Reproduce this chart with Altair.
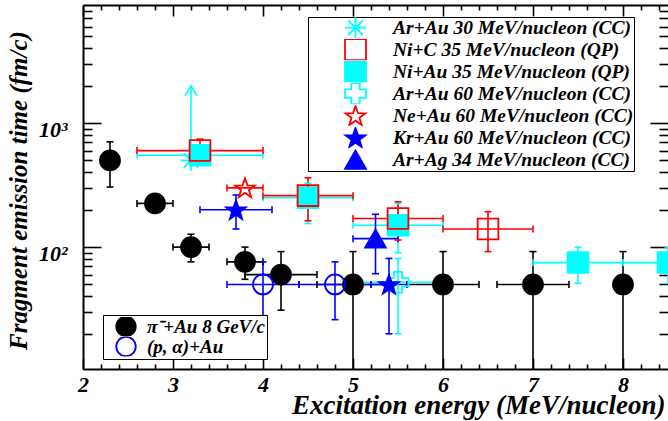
import math
import altair as alt
import pandas as pd

# ---------------- data ----------------
# pi- + Au 8 GeV/c (black filled circles)
pi_E = [2.3, 2.8, 3.2, 3.8, 4.2, 5.0, 6.0, 7.0, 8.0]
pi_T = [500, 225, 100, 76, 60, 50, 50, 50, 50]
pi_Elo = [None, 2.6, 3.0, 3.6, 3.8, 4.6, 5.6, 6.6, None]
pi_Ehi = [None, 3.0, 3.4, 4.0, 4.6, 5.4, 6.4, 7.4, None]
pi_Tlo = [305, None, 76, 55, 31, 5, 5, 5, 5]
pi_Thi = [706, None, 127, 100, 92, 92, 92, 92, 92]

# (p, alpha) + Au (blue open circles)
pa_E = [4.0, 4.8]
pa_T = [50, 50]
pa_Elo = [3.6, 4.4]
pa_Ehi = [4.4, 5.2]
pa_Tlo = [28, 26]
pa_Thi = [76, 76]

# Ar+Au 30 MeV/nucleon (CC) - lower limit
ar30_E = [3.2]
ar30_T = [500]
ar30_limit = [2000]

# Ni+C 35 MeV/nucleon (QP)
nic_E = [3.3, 4.5, 5.5, 6.5]
nic_T = [600, 260, 170, 140]
nic_Elo = [2.6, 4.0, 5.0, 6.0]
nic_Ehi = [4.0, 5.0, 6.0, 7.0]
nic_Tlo = [467, 163, 114, 92]
nic_Thi = [743, 362, 232, 193]

# Ni+Au 35 MeV/nucleon (QP)
niau_E = [3.3, 4.5, 5.5, 7.5, 8.5]
niau_T = [550, 250, 150, 75, 75]
niau_Elo = [2.6, 4.0, 5.0, 7.0, 8.0]
niau_Ehi = [4.0, 5.0, 6.0, 8.0, 9.0]
niau_Tlo = [490, 155, 90, 51, 51]
niau_Thi = [620, 327, 225, 100, 100]

# Ar+Au 60 MeV/nucleon (CC)
ar60_E = [5.5]
ar60_T = [52]
ar60_Elo = [5.0]
ar60_Ehi = [6.0]
ar60_Tlo = [20]
ar60_Thi = [81]

# Ne+Au 60 MeV/nucleon (CC)
ne_E = [3.8]
ne_T = [300]
ne_Elo = [3.6]
ne_Ehi = [4.0]

# Kr+Au 60 MeV/nucleon (CC)
kr_E = [3.7, 5.4]
kr_T = [200, 50]
kr_Elo = [3.3, 5.2]
kr_Ehi = [4.1, 5.6]
kr_Tlo = [140, 20]
kr_Thi = [263, 81]

# Ar+Ag 34 MeV/nucleon (CC)
ag_E = [5.25]
ag_T = [117]
ag_Elo = [5.0]
ag_Ehi = [5.5]
ag_Tlo = [61]
ag_Thi = [184]

names_A = ["Ar+Au 30 MeV/nucleon (CC)", "Ni+C 35 MeV/nucleon (QP)",
           "Ni+Au 35 MeV/nucleon (QP)", "Ar+Au 60 MeV/nucleon (CC)",
           "Ne+Au 60 MeV/nucleon (CC)", "Kr+Au 60 MeV/nucleon (CC)",
           "Ar+Ag 34 MeV/nucleon (CC)"]
names_B = ["π⁻+Au 8 GeV/c", "(p, α)+Au"]

x_major = [2, 3, 4, 5, 6, 7, 8]
x_ticks = [round(2 + 0.2 * i, 1) for i in range(33)]
y_major = [100, 1000]
y_ticks = [m * d for d in (10, 100, 1000) for m in range(2, 10) if m * d < 8900] + [100, 1000]

# ---------------- styles ----------------
CYAN, RED, BLUE, BLACK = "#00ffff", "#ff0000", "#0000ff", "#000000"
pts = []
for k in range(10):
    a = math.radians(-90 + 36 * k)
    r = 1.0 if k % 2 == 0 else 0.4
    pts.append(f"{r * math.cos(a):.3f},{r * math.sin(a) + 0.08:.3f}")
STAR = "M" + "L".join(pts) + "Z"
ASTER = "M0,-1L0,1M-1,0L1,0M-0.7,-0.7L0.7,0.7M-0.7,0.7L0.7,-0.7"
CHEVRON = "M-0.6,1L0,0L0.6,1"

shapes_A = [ASTER, "square", "square", "cross", STAR, STAR, "triangle-up"]
stroke_A = [CYAN, RED, CYAN, CYAN, RED, BLUE, BLUE]
fill_A = ["transparent", "transparent", CYAN, "transparent", "transparent", BLUE, BLUE]
stroke_B = [BLACK, BLUE]
fill_B = [BLACK, "transparent"]
color_of = dict(zip(names_A, stroke_A)) | dict(zip(names_B, stroke_B))

# ---------------- tables ----------------
rows = []


def add(name, E, T, Elo=None, Ehi=None, Tlo=None, Thi=None):
    n = len(E)
    Elo = Elo or [None] * n
    Ehi = Ehi or [None] * n
    Tlo = Tlo or [None] * n
    Thi = Thi or [None] * n
    for i in range(n):
        rows.append(dict(series=name, E=E[i], T=T[i], Elo=Elo[i], Ehi=Ehi[i],
                         Tlo=Tlo[i], Thi=Thi[i], color=color_of[name],
                         group="A" if name in names_A else "B"))


# drawing order: later rows are drawn on top
add(names_B[0], pi_E, pi_T, pi_Elo, pi_Ehi, pi_Tlo, pi_Thi)
add(names_B[1], pa_E, pa_T, pa_Elo, pa_Ehi, pa_Tlo, pa_Thi)
add(names_A[0], ar30_E, ar30_T)
add(names_A[2], niau_E, niau_T, niau_Elo, niau_Ehi, niau_Tlo, niau_Thi)
add(names_A[1], nic_E, nic_T, nic_Elo, nic_Ehi, nic_Tlo, nic_Thi)
add(names_A[3], ar60_E, ar60_T, ar60_Elo, ar60_Ehi, ar60_Tlo, ar60_Thi)
add(names_A[4], ne_E, ne_T, ne_Elo, ne_Ehi)
add(names_A[5], kr_E, kr_T, kr_Elo, kr_Ehi, kr_Tlo, kr_Thi)
add(names_A[6], ag_E, ag_T, ag_Elo, ag_Ehi, ag_Tlo, ag_Thi)
df = pd.DataFrame(rows)
df["order"] = range(len(df))

xcap = []
ycap = []
for r in rows:
    if r["Elo"] is not None:
        xcap += [dict(E=r["Elo"], T=r["T"], color=r["color"]), dict(E=r["Ehi"], T=r["T"], color=r["color"])]
    if r["Tlo"] is not None:
        ycap += [dict(E=r["E"], T=r["Tlo"], color=r["color"]), dict(E=r["E"], T=r["Thi"], color=r["color"])]
xcap = pd.DataFrame(xcap)
ycap = pd.DataFrame(ycap)
lim = pd.DataFrame(dict(E=ar30_E, T=ar30_T, Tup=ar30_limit))

# ---------------- chart ----------------
W, H = 585, 364
xs = alt.Scale(domain=[2, 8.5], nice=False, zero=False)
ys = alt.Scale(type="log", domain=[10.4, 8955], nice=False)
FONT = "Liberation Serif"
LW = 1.6

xerr = alt.Chart(df).transform_filter("isValid(datum.Elo)").mark_rule(strokeWidth=LW, clip=True).encode(
    x=alt.X("Elo:Q", scale=xs, axis=None), x2="Ehi:Q",
    y=alt.Y("T:Q", scale=ys, axis=None), stroke=alt.Stroke("color:N", scale=None))
yerr = alt.Chart(df).transform_filter("isValid(datum.Tlo)").mark_rule(strokeWidth=LW, clip=True).encode(
    x=alt.X("E:Q", scale=xs, axis=None),
    y=alt.Y("Tlo:Q", scale=ys, axis=None), y2="Thi:Q", stroke=alt.Stroke("color:N", scale=None))
xcaps = alt.Chart(xcap).mark_point(shape="stroke", angle=90, size=49, strokeWidth=LW, opacity=1, clip=True).encode(
    x=alt.X("E:Q", scale=xs, axis=None), y=alt.Y("T:Q", scale=ys, axis=None),
    stroke=alt.Stroke("color:N", scale=None))
ycaps = alt.Chart(ycap).mark_point(shape="stroke", size=49, strokeWidth=LW, opacity=1, clip=True).encode(
    x=alt.X("E:Q", scale=xs, axis=None), y=alt.Y("T:Q", scale=ys, axis=None),
    stroke=alt.Stroke("color:N", scale=None))
lim_rule = alt.Chart(lim).mark_rule(strokeWidth=LW, color=CYAN).encode(
    x=alt.X("E:Q", scale=xs, axis=None), y=alt.Y("T:Q", scale=ys, axis=None), y2="Tup:Q")
lim_head = alt.Chart(lim).mark_point(shape=CHEVRON, size=400, strokeWidth=LW, color=CYAN, opacity=1).encode(
    x=alt.X("E:Q", scale=xs, axis=None), y=alt.Y("Tup:Q", scale=ys, axis=None))

leg_common = dict(orient="none", title=None, direction="vertical",
                  labelFont=FONT, labelFontStyle="italic", labelFontWeight="bold",
                  labelColor="black", strokeColor="black", fillColor="white",
                  labelLimit=0, symbolStrokeWidth=1.8, rowPadding=0)
legA = alt.Legend(legendX=225, legendY=12, labelFontSize=19.5, symbolSize=440,
                  padding=0, clipHeight=21.3, symbolOffset=36, labelOffset=26,
                  labelExpr="datum.label + '\u00a0\u00a0\u00a0\u00a0'", **leg_common)
legB = alt.Legend(legendX=20, legendY=310, labelFontSize=19, symbolSize=380,
                  padding=2, clipHeight=19, symbolOffset=10, labelOffset=10,
                  labelExpr="datum.label + '\u00a0'", **leg_common)

ptsB = alt.Chart(df[df.group == "B"]).mark_point(size=400, strokeWidth=1.8, opacity=1, clip=True).encode(
    x=alt.X("E:Q", scale=xs, axis=None), y=alt.Y("T:Q", scale=ys, axis=None),
    order=alt.Order("order:Q"),
    shape=alt.Shape("series:N", scale=alt.Scale(domain=names_B, range=["circle", "circle"]), legend=legB),
    fill=alt.Fill("series:N", scale=alt.Scale(domain=names_B, range=fill_B), legend=legB),
    stroke=alt.Stroke("series:N", scale=alt.Scale(domain=names_B, range=stroke_B), legend=legB))
ptsA = alt.Chart(df[df.group == "A"]).mark_point(size=430, strokeWidth=1.8, opacity=1, clip=True).encode(
    x=alt.X("E:Q", scale=xs, axis=None), y=alt.Y("T:Q", scale=ys, axis=None),
    order=alt.Order("order:Q"),
    shape=alt.Shape("series:N", scale=alt.Scale(domain=names_A, range=shapes_A), legend=legA),
    fill=alt.Fill("series:N", scale=alt.Scale(domain=names_A, range=fill_A), legend=legA),
    stroke=alt.Stroke("series:N", scale=alt.Scale(domain=names_A, range=stroke_A), legend=legA))

anchor = pd.DataFrame(dict(E=[2.0], T=[100]))
xmaj = {"condition": {"test": "datum.value % 1 === 0", "value": 11}, "value": 5}
ymaj = {"condition": {"test": "datum.value === 100 || datum.value === 1000", "value": 18}, "value": 9}
tick_common = dict(labels=False, grid=False, title=None, tickColor="black", tickWidth=1.6,
                   domainColor="black", domainWidth=2)

ax_labels = alt.Chart(anchor).mark_point(opacity=0).encode(
    x=alt.X("E:Q", scale=xs, axis=alt.Axis(
        orient="bottom", values=x_major, ticks=False, domain=False, grid=False, format="d",
        labelFont=FONT, labelFontSize=22, labelFontStyle="italic", labelFontWeight="bold",
        labelColor="black", labelPadding=5, labelFlush=False, labelOverlap=False,
        title="Excitation energy (MeV/nucleon)", titleFont=FONT, titleFontSize=27,
        titleFontStyle="italic", titleFontWeight="bold", titleColor="black",
        titleAnchor="end", titleAlign="right", titleBaseline="alphabetic", titleX=W - 3, titleY=44)),
    y=alt.Y("T:Q", scale=ys, axis=alt.Axis(
        orient="left", values=y_major, ticks=False, domain=False, grid=False,
        labelExpr="datum.value == 100 ? '10²' : '10³'",
        labelFont=FONT, labelFontSize=22, labelFontStyle="italic", labelFontWeight="bold",
        labelColor="black", labelPadding=16, labelOffset=6, labelFlush=False, labelOverlap=False,
        title="Fragment emission time (fm/c)", titleFont=FONT, titleFontSize=25,
        titleFontStyle="italic", titleFontWeight="bold", titleColor="black",
        titleAngle=270, titleAlign="center", titleBaseline="alphabetic", titleX=-57, titleY=H / 2 + 3)))

ax_ticks1 = alt.Chart(anchor).mark_point(opacity=0).encode(
    x=alt.X("E:Q", scale=xs, axis=alt.Axis(orient="top", offset=-H, values=x_ticks, tickSize=xmaj,
                                           domain=True, **tick_common)),
    y=alt.Y("T:Q", scale=ys, axis=alt.Axis(orient="right", offset=-W, values=y_ticks, tickSize=ymaj,
                                           domain=True, **tick_common)))
ax_ticks2 = alt.Chart(anchor).mark_point(opacity=0).encode(
    x=alt.X("E:Q", scale=xs, axis=alt.Axis(orient="bottom", offset=-H, values=x_ticks, tickSize=xmaj,
                                           domain=True, **tick_common)),
    y=alt.Y("T:Q", scale=ys, axis=alt.Axis(orient="left", offset=-W, values=y_ticks, tickSize=ymaj,
                                           domain=False, **tick_common)))

chart = alt.layer(
    xerr, yerr, xcaps, ycaps, lim_rule, lim_head, ptsB, ptsA, ax_labels, ax_ticks1, ax_ticks2
).resolve_scale(
    shape="independent", fill="independent", stroke="independent"
).resolve_axis(
    x="independent", y="independent"
).properties(
    width=W, height=H,
    padding={"left": 83, "top": 5, "right": 0, "bottom": 52},
    autosize=alt.AutoSizeParams(type="none"),
    background="white",
).configure_view(stroke=None)

chart.save("out.html", embed_options={"renderer": "svg", "actions": False})
